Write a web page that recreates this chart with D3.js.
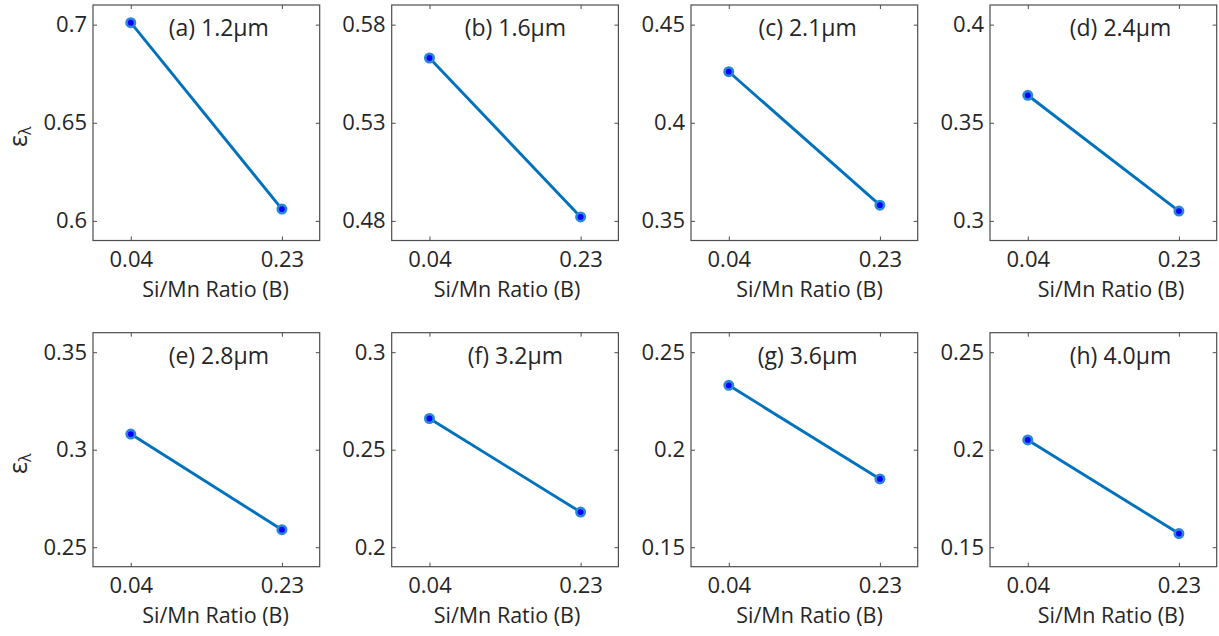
<!DOCTYPE html>
<html>
<head>
<meta charset="utf-8">
<script src="https://cdn.jsdelivr.net/npm/d3@7"></script>
<style>
  html, body { margin: 0; padding: 0; background: #fff; }
  svg { display: block; }
  text { font-family: "Open Sans", "Noto Sans", sans-serif; fill: #262626; }
</style>
</head>
<body>
<svg id="chart" width="1219" height="636"></svg>
<script>
// Si/Mn ratio categories on the x axis
const ratios = ["0.04", "0.23"];

// Panel captions (wavelength)
const panelLabels = [
  "(a) 1.2µm", "(b) 1.6µm", "(c) 2.1µm", "(d) 2.4µm",
  "(e) 2.8µm", "(f) 3.2µm", "(g) 3.6µm", "(h) 4.0µm"
];

// Spectral emissivity for each panel, one value per ratio
const emA = [0.701, 0.606];
const emB = [0.563, 0.482];
const emC = [0.426, 0.358];
const emD = [0.364, 0.305];
const emE = [0.308, 0.259];
const emF = [0.266, 0.218];
const emG = [0.233, 0.185];
const emH = [0.205, 0.157];
const emissivity = [emA, emB, emC, emD, emE, emF, emG, emH];

// y-axis limits and tick values per panel
const yLimits = [
  [0.59, 0.71], [0.47, 0.59], [0.34, 0.46], [0.29, 0.41],
  [0.24, 0.36], [0.19, 0.31], [0.14, 0.26], [0.14, 0.26]
];
const yTickValues = [
  [0.6, 0.65, 0.7], [0.48, 0.53, 0.58], [0.35, 0.4, 0.45], [0.3, 0.35, 0.4],
  [0.25, 0.3, 0.35], [0.2, 0.25, 0.3], [0.15, 0.2, 0.25], [0.15, 0.2, 0.25]
];

// ---- layout ----
const colLeft = [93, 391.7, 691, 990];
const rowTop = [5, 332.7];
const boxW = 226.7;
const boxH = [235.5, 234];
const titleCenter = [125.8, 123.7, 116.6, 130.5];   // caption centre from box left
const xLabelCenter = [122.5, 115.3, 118.5, 121];    // x-label centre from box left
const lineColor = "#0072BD";

const svg = d3.select("#chart");
const fmt = v => String(+v.toFixed(3));

emissivity.forEach((vals, i) => {
  const col = i % 4, row = Math.floor(i / 4);
  const x0 = colLeft[col], y0 = rowTop[row], h = boxH[row];
  const g = svg.append("g").attr("transform", `translate(${x0},${y0})`);

  const x = d3.scaleLinear().domain([0.75, 2.25]).range([0, boxW]);
  const y = d3.scaleLinear().domain(yLimits[i]).range([h, 0]);

  // tick marks pointing inward on all four sides
  const styleAxis = sel => {
    sel.select(".domain").remove();
    sel.selectAll(".tick line").attr("stroke", "#4d4d4d").attr("stroke-width", 1);
    sel.selectAll(".tick text").attr("fill", "#262626")
      .style("font-size", "22px").style("font-family", "'Open Sans', sans-serif");
  };

  g.append("g").call(d3.axisLeft(y).tickValues(yTickValues[i]).tickFormat(fmt)
      .tickSizeInner(-4).tickSizeOuter(0).tickPadding(6))
    .call(styleAxis);
  g.append("g").attr("transform", `translate(${boxW},0)`)
    .call(d3.axisRight(y).tickValues(yTickValues[i]).tickFormat("")
      .tickSizeInner(-4).tickSizeOuter(0))
    .call(styleAxis);
  g.append("g").attr("transform", `translate(0,${h})`)
    .call(d3.axisBottom(x).tickValues([1, 2]).tickFormat((d, k) => ratios[k])
      .tickSizeInner(-4).tickSizeOuter(0).tickPadding(11))
    .call(styleAxis);
  g.append("g")
    .call(d3.axisTop(x).tickValues([1, 2]).tickFormat("")
      .tickSizeInner(-4).tickSizeOuter(0))
    .call(styleAxis);

  // axes box
  g.append("rect").attr("x", 0).attr("y", 0).attr("width", boxW).attr("height", h)
    .attr("fill", "none").attr("stroke", "#4d4d4d").attr("stroke-width", 1.2);

  // data line and markers
  const pts = vals.map((v, k) => [k + 1, v]);
  g.append("path").datum(pts)
    .attr("fill", "none").attr("stroke", lineColor).attr("stroke-width", 2.9)
    .attr("d", d3.line().x(d => x(d[0])).y(d => y(d[1])));
  g.selectAll("circle.pt").data(pts).join("circle").attr("class", "pt")
    .attr("cx", d => x(d[0])).attr("cy", d => y(d[1])).attr("r", 4.2)
    .attr("fill", "#0000ff").attr("stroke", "#2a86d8").attr("stroke-width", 2.6);

  // caption
  g.append("text").attr("x", titleCenter[col]).attr("y", 31)
    .attr("text-anchor", "middle").style("font-size", "23px")
    .text(panelLabels[i]);

  // x label
  g.append("text").attr("x", xLabelCenter[col]).attr("y", h + 56)
    .attr("text-anchor", "middle").style("font-size", "21.5px")
    .text("Si/Mn Ratio (B)");

  // y label on the first column
  if (col === 0) {
    const t = g.append("text")
      .attr("transform", `translate(${27 - x0},${h / 2 + 14}) rotate(-90)`)
      .attr("text-anchor", "middle").style("font-size", "25px");
    t.append("tspan").text("ε");
    t.append("tspan").attr("dy", 4).style("font-size", "16px").text("λ");
  }
});
</script>
</body>
</html>
